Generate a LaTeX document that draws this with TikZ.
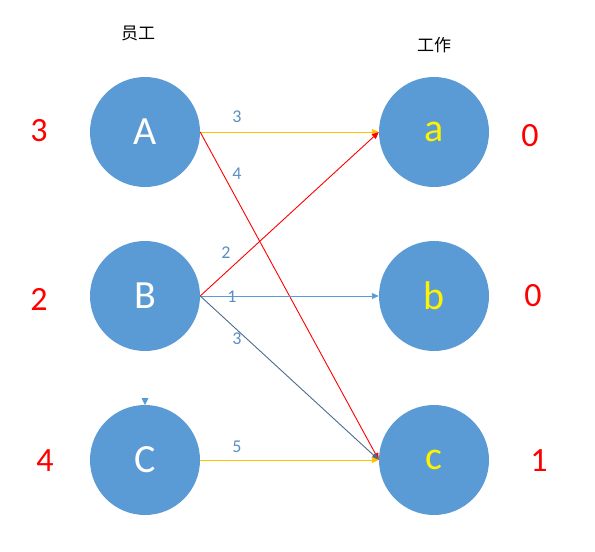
\documentclass[tikz,border=0pt]{standalone}
\usepackage{fontspec}
\setmainfont{Carlito}
\newfontfamily\cjk{Noto Sans CJK SC}
\usetikzlibrary{arrows.meta}
\definecolor{nodeblue}{HTML}{5B9BD5}
\definecolor{edgeyellow}{HTML}{FFC000}
\definecolor{edgered}{HTML}{FF0000}
\definecolor{edgeslate}{HTML}{4E6A8C}
\definecolor{lblblue}{HTML}{5B8EC4}
\tikzset{
  circ/.style={circle, fill=nodeblue, minimum size=110pt, inner sep=0pt, font=\fontsize{40}{40}\selectfont},
  left circ/.style={circ, text=white},
  right circ/.style={circ, text=yellow},
  score/.style={text=red, font=\fontsize{34}{34}\selectfont},
  elabel/.style={text=lblblue, font=\fontsize{18}{18}\selectfont},
  title/.style={font=\cjk\fontsize{17}{17}\selectfont},
  edge/.style={line width=0.9pt, -{Triangle[length=7pt,width=6pt]}},
}
\begin{document}
\begin{tikzpicture}[x=1pt,y=-1pt]
\useasboundingbox (0,0) rectangle (595,552);
\node[title] (t1) at (138,33) {员工};
\node[title] (t2) at (434,45) {工作};
\node[left circ] (A) at (145,132) {A};
\node[left circ] (B) at (145,296) {B};
\node[left circ] (C) at (145,460) {C};
\node[right circ] (a) at (434,132) {a};
\node[right circ] (b) at (434,296) {b};
\node[right circ] (c) at (434,460) {c};
\node[score] (sA) at (39,131) {3};
\node[score] (sB) at (39,299) {2};
\node[score] (sC) at (45,461) {4};
\node[score] (sa) at (530,136) {0};
\node[score] (sb) at (533,296) {0};
\node[score] (sc) at (539,461) {1};
\draw[edge, edgeyellow] (A.east) -- (a.west);
\draw[edge, edgered] (A.east) -- (c.west);
\draw[edge, edgered] (B.east) -- (a.west);
\draw[edge, nodeblue] (B.east) -- (b.west);
\draw[edge, edgeslate] (B.east) -- (c.west);
\draw[edge, edgeyellow] (C.east) -- (c.west);
\node[elabel] (l1) at (237,117) {3};
\node[elabel] (l2) at (237,174) {4};
\node[elabel] (l3) at (226,253) {2};
\node[elabel] (l4) at (232,297) {1};
\node[elabel] (l5) at (237,339) {3};
\node[elabel] (l6) at (237,447) {5};
\coordinate (mk) at (145,398);
\fill[nodeblue] ([xshift=-3.5pt]mk) -- ([xshift=3.5pt]mk) -- ([yshift=-7pt]mk) -- cycle;
\end{tikzpicture}
\end{document}
